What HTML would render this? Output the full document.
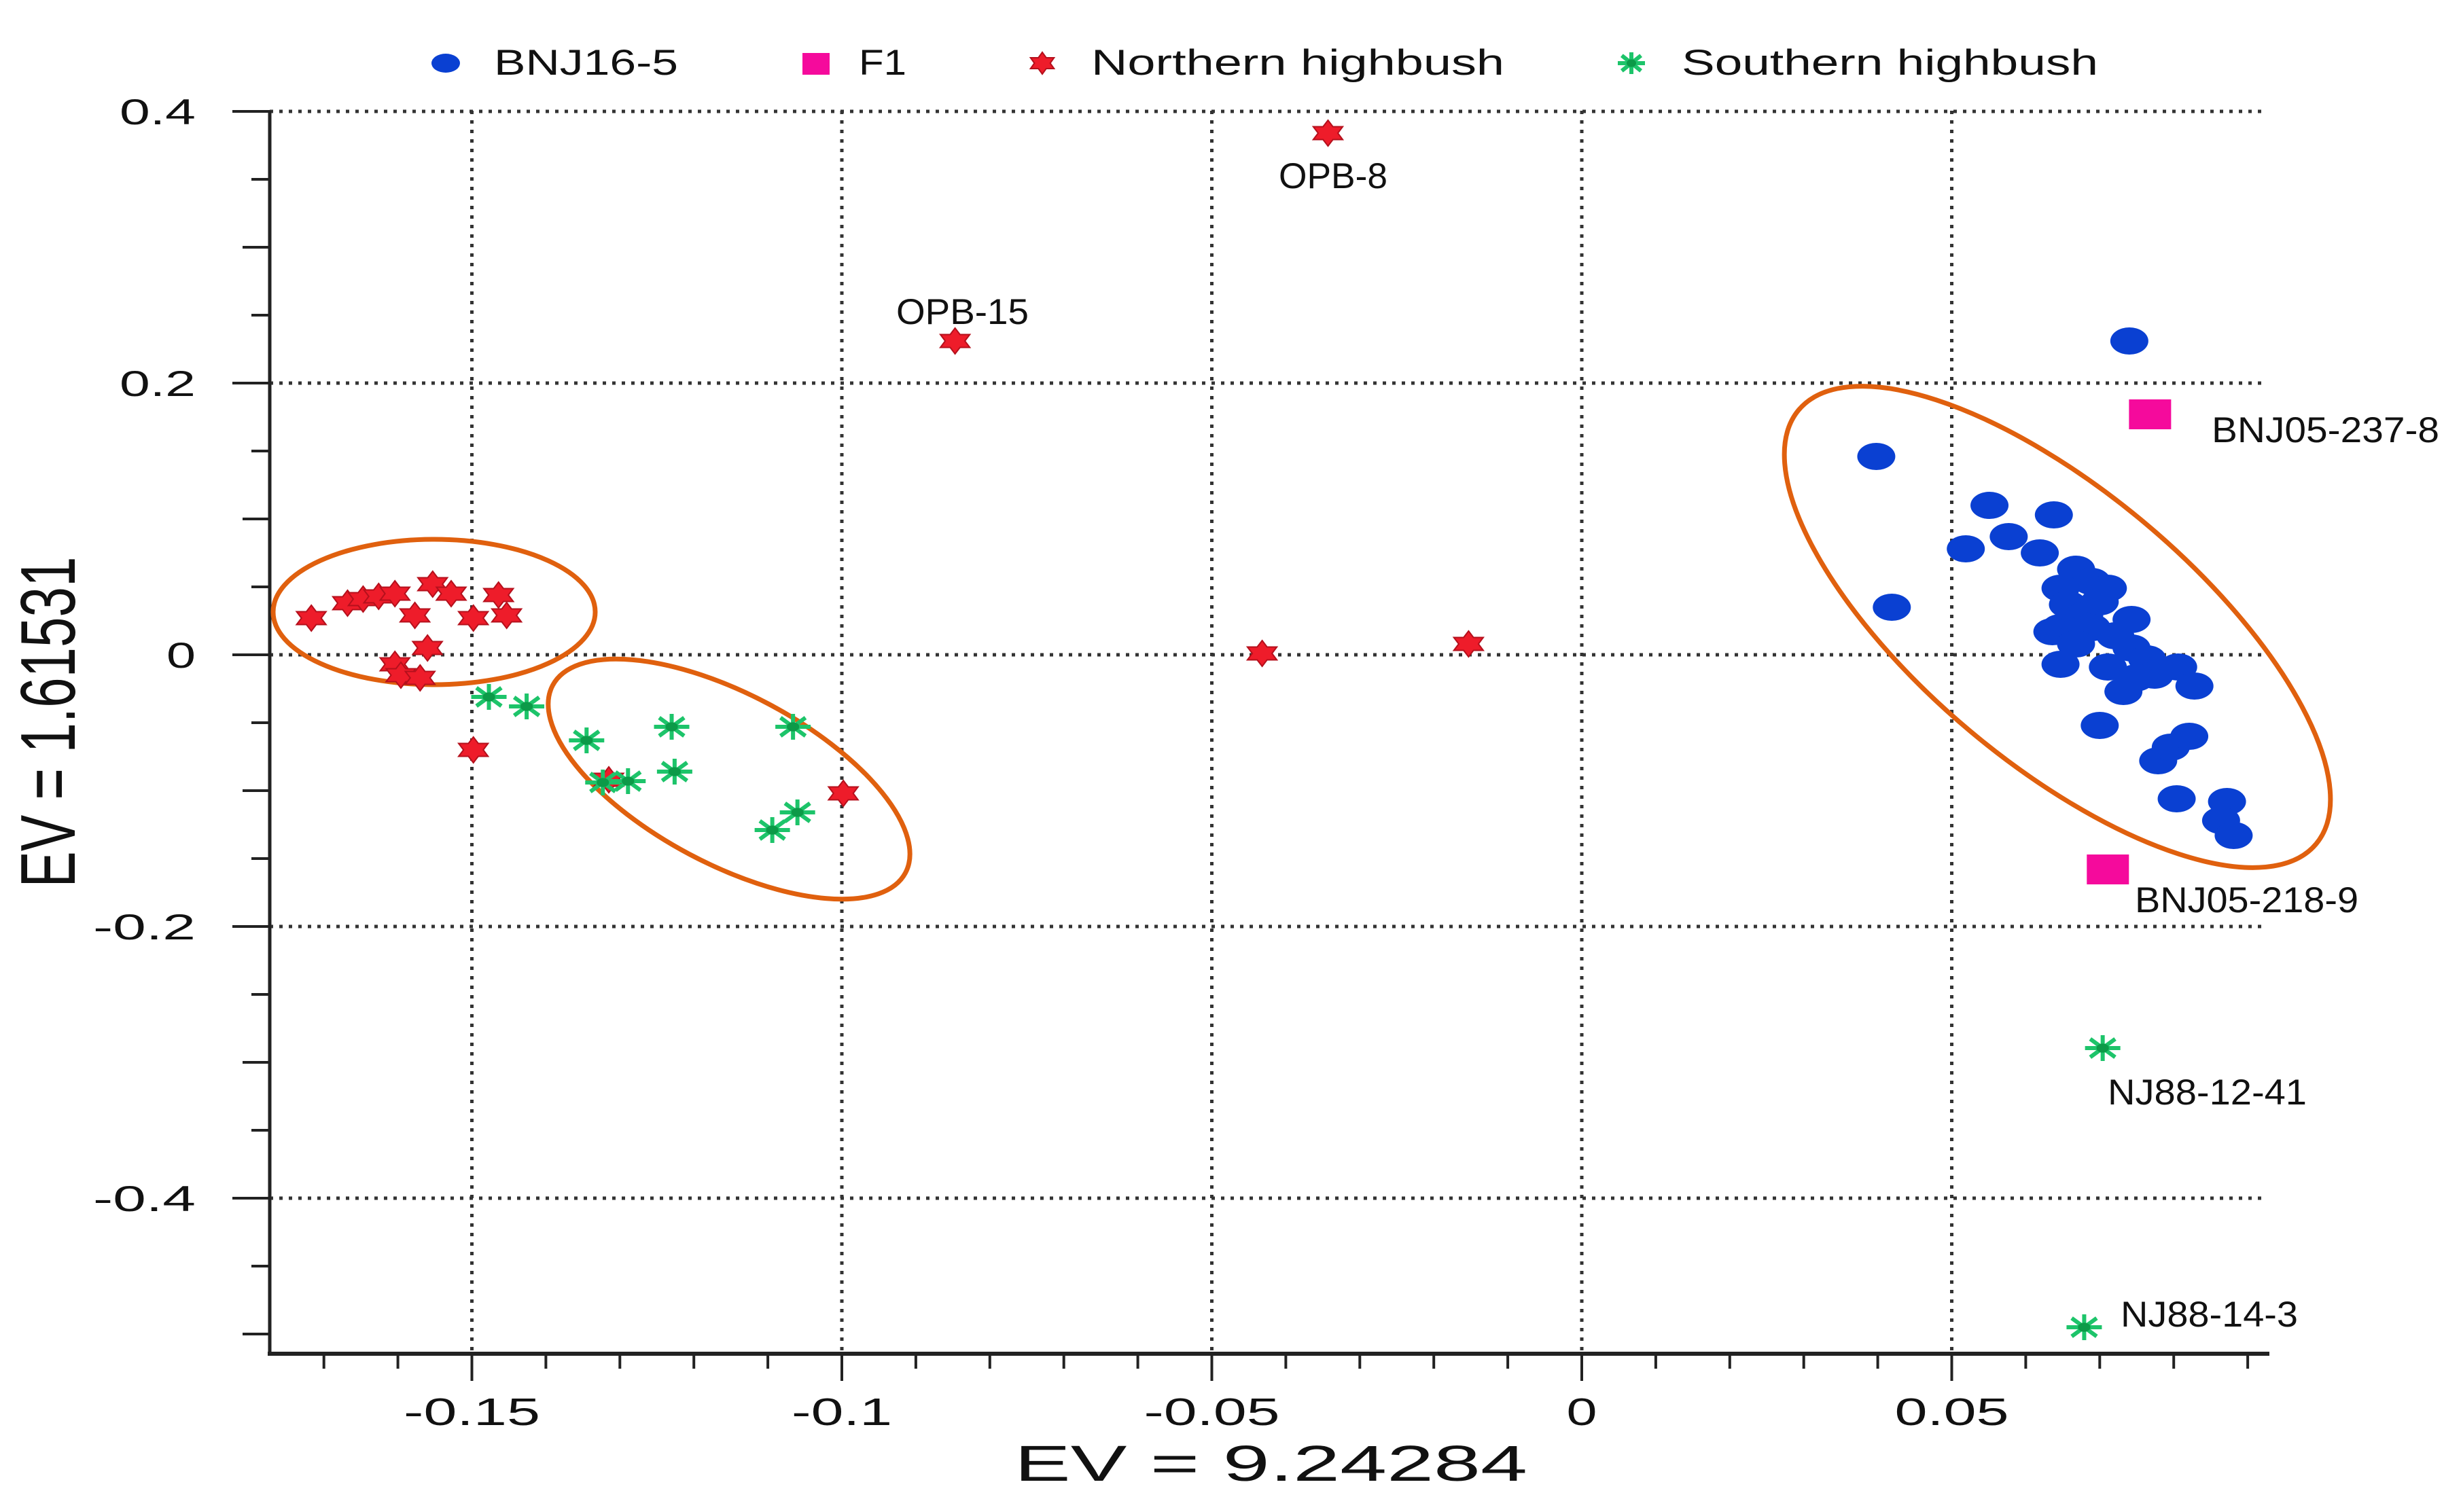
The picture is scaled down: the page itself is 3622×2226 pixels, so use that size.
<!DOCTYPE html>
<html><head><meta charset="utf-8">
<style>
html,body{margin:0;padding:0;background:#fff;}
svg{display:block;}
text{font-family:"Liberation Sans",sans-serif;fill:#111;}
</style></head>
<body>
<svg id="chart" width="3622" height="2226" viewBox="0 0 3622 2226" xmlns="http://www.w3.org/2000/svg">
<g id="grid"></g>
<g id="axes"></g>
<g id="ellipses"></g>
<g id="marks"></g>
<g id="labels"></g>
<g id="legend"></g>
<text x="1493" y="2180" font-size="74" textLength="755" lengthAdjust="spacingAndGlyphs">EV = 9.24284</text>
<text transform="translate(110,1063) rotate(-90)" x="0" y="0" text-anchor="middle" font-size="114" textLength="487" lengthAdjust="spacingAndGlyphs">EV = 1.61531</text>
</svg>
<script>
// ---- data ----
const bnjX = [0.074,0.0398,0.0419,0.0551,0.0638,0.0519,0.0577,0.0619,0.0668,0.0689,0.0647,0.0711,0.0657,0.0679,0.0700,0.0647,0.0689,0.0721,0.0743,0.0636,0.0668,0.0743,0.0764,0.0647,0.0711,0.0774,0.0806,0.0828,0.0732,0.0749,0.0700,0.0779,0.0796,0.0821,0.0804,0.0872,0.0864,0.0881];
const bnjY = [0.231,0.146,0.035,0.110,0.103,0.078,0.087,0.075,0.063,0.054,0.049,0.049,0.037,0.029,0.039,0.020,0.020,0.014,0.026,0.017,0.008,0.005,-0.003,-0.007,-0.009,-0.015,-0.009,-0.023,-0.027,-0.017,-0.052,-0.078,-0.068,-0.060,-0.106,-0.108,-0.122,-0.133];
const f1X = [0.0768,0.0711];
const f1Y = [0.177,-0.158];
const nhX = [-0.0343,-0.0847,-0.0432,-0.0153,-0.0998,-0.1315,-0.1498,-0.1717,-0.1668,-0.1647,-0.1626,-0.1604,-0.1553,-0.1528,-0.1577,-0.1498,-0.1464,-0.1453,-0.1560,-0.1604,-0.1596,-0.1570];
const nhY = [0.384,0.231,0.001,0.008,-0.102,-0.092,-0.070,0.027,0.038,0.041,0.043,0.045,0.052,0.045,0.029,0.027,0.044,0.029,0.005,-0.007,-0.015,-0.017];
const shX = [-0.1477,-0.1426,-0.1345,-0.1230,-0.1066,-0.1323,-0.1289,-0.1226,-0.1060,-0.1094,0.0704,0.0679];
const shY = [-0.031,-0.038,-0.063,-0.053,-0.053,-0.094,-0.093,-0.086,-0.116,-0.129,-0.2895,-0.495];
const xTickVals = [-0.15,-0.1,-0.05,0,0.05];
const xTickLabels = ["-0.15","-0.1","-0.05","0","0.05"];
const yTickVals = [0.4,0.2,0,-0.2,-0.4];
const yTickLabels = ["0.4","0.2","0","-0.2","-0.4"];
const pointLabels = ["OPB-8","OPB-15","BNJ05-237-8","BNJ05-218-9","NJ88-12-41","NJ88-14-3"];

// ---- scales ----
const X0=2328, SX=10890, Y0=964, SY=2000;
const sx=v=>X0+v*SX, sy=v=>Y0-v*SY;
const AXL=397, AXB=1993, AXR=3340, GR=3329, GT=163;
const NS="http://www.w3.org/2000/svg";
function mk(tag,attrs,parent){const e=document.createElementNS(NS,tag);for(const k in attrs)e.setAttribute(k,attrs[k]);parent.appendChild(e);return e;}
const grid=document.getElementById('grid'),axes=document.getElementById('axes'),marks=document.getElementById('marks'),labels=document.getElementById('labels'),legend=document.getElementById('legend'),ell=document.getElementById('ellipses');

// grid
xTickVals.forEach(v=>{const l=mk('line',{x1:sx(v),x2:sx(v),y1:GT,y2:AXB,stroke:'#333','stroke-width':5,'stroke-dasharray':'5 9'},grid);

});
yTickVals.forEach(v=>{const l=mk('line',{x1:AXL,x2:GR,y1:sy(v),y2:sy(v),stroke:'#333','stroke-width':5,'stroke-dasharray':'5 9'},grid);

});

// axes
let a=mk('line',{x1:AXL,x2:AXL,y1:GT,y2:AXB+3,stroke:'#222','stroke-width':5},axes);


a=mk('line',{x1:AXL-3,x2:AXR,y1:AXB,y2:AXB,stroke:'#222','stroke-width':6},axes);


for(let i=-17;i<=9;i++){const v=i/100;const major=(i%5===0);
 const t=mk('line',{x1:sx(v),x2:sx(v),y1:AXB,y2:AXB+(major?40:22),stroke:'#222','stroke-width':4},axes);
 
 }
for(let i=-10;i<=8;i++){const v=i/20;const len=(i%4===0)?55:((i%2===0)?40:27);
 const t=mk('line',{x1:AXL-len,x2:AXL,y1:sy(v),y2:sy(v),stroke:'#222','stroke-width':4},axes);
 
 }
const xw={"-0.15":201,"-0.1":148,"-0.05":200,"0":45,"0.05":168};
xTickVals.forEach((v,i)=>{const s=xTickLabels[i];const w=xw[s]||150;
 const t=mk('text',{x:sx(v)-w/2,y:2098,'font-size':57,textLength:w,lengthAdjust:'spacingAndGlyphs'},axes);t.textContent=s;
 
 });
yTickVals.forEach((v,i)=>{const s=yTickLabels[i];const w=s.length===1?43:(s.startsWith('-')?151:112);
 const t=mk('text',{x:288-w,y:sy(v)+19,'font-size':53,textLength:w,lengthAdjust:'spacingAndGlyphs'},axes);t.textContent=s;
 
 });

// ellipses
[[639,901,237,107,0],[1073,1147,294,125,28],[3028,923,497,200,40]].forEach(e=>{
 const el=mk('ellipse',{cx:0,cy:0,rx:e[2],ry:e[3],fill:'none',stroke:'#e0600e','stroke-width':7,transform:`translate(${e[0]},${e[1]}) rotate(${e[4]})`},ell);
 
 });

// marker shapes
function star(cx,cy,rx,ry,parent){let p=[];for(let k=0;k<12;k++){const ang=-Math.PI/2+k*Math.PI/6;const r=(k%2===0)?1:0.58;p.push((cx+Math.cos(ang)*rx*r).toFixed(1)+','+(cy+Math.sin(ang)*ry*r).toFixed(1));}
 return mk('polygon',{points:p.join(' '),fill:'#ee1c2a',stroke:'#b5101c','stroke-width':2},parent);}
function aster(cx,cy,rx,ry,parent){const g=mk('g',{},parent);for(let k=0;k<4;k++){const ang=k*Math.PI/4;mk('line',{x1:cx-Math.cos(ang)*rx,y1:cy-Math.sin(ang)*ry,x2:cx+Math.cos(ang)*rx,y2:cy+Math.sin(ang)*ry,stroke:'#1dc46a','stroke-width':6},g);}
 mk('ellipse',{cx:cx,cy:cy,rx:rx*0.35,ry:ry*0.35,fill:'#0c9a48'},g);return g;}

bnjX.forEach((v,i)=>{const c=mk('ellipse',{cx:sx(v),cy:sy(bnjY[i]),rx:28,ry:20,fill:'#0a40d2'},marks);
 
 });
f1X.forEach((v,i)=>{const r=mk('rect',{x:sx(v)-31,y:sy(f1Y[i])-22,width:62,height:44,fill:'#f50a9c'},marks);
 
 });
nhX.forEach((v,i)=>{const s=star(sx(v),sy(nhY[i]),25,19,marks);
 
 });
shX.forEach((v,i)=>{const s=aster(sx(v),sy(shY[i]),26,19,marks);
 
 });

// point labels
[[1882,277,160],[1319,477,195],[3255,651,335],[3142,1343,329],[3102,1626,293],[3121,1953,261]].forEach((p,i)=>{
 const t=mk('text',{x:p[0],y:p[1],'font-size':53,textLength:p[2],lengthAdjust:'spacingAndGlyphs'},labels);t.textContent=pointLabels[i];
 
 });

// legend
let g=mk('ellipse',{cx:656,cy:93,rx:21,ry:14,fill:'#0a40d2'},legend);


g=mk('rect',{x:1181,y:78,width:40,height:32,fill:'#f50a9c'},legend);


g=star(1534,93,20,16,legend);


g=aster(2401,93,20,16,legend);


[["BNJ16-5",727,271],["F1",1264,70],["Northern highbush",1606,608],["Southern highbush",2475,613]].forEach(l=>{
 const t=mk('text',{x:l[1],y:110,'font-size':53,textLength:l[2],lengthAdjust:'spacingAndGlyphs'},legend);t.textContent=l[0];
 
 });
</script>
</body></html>
